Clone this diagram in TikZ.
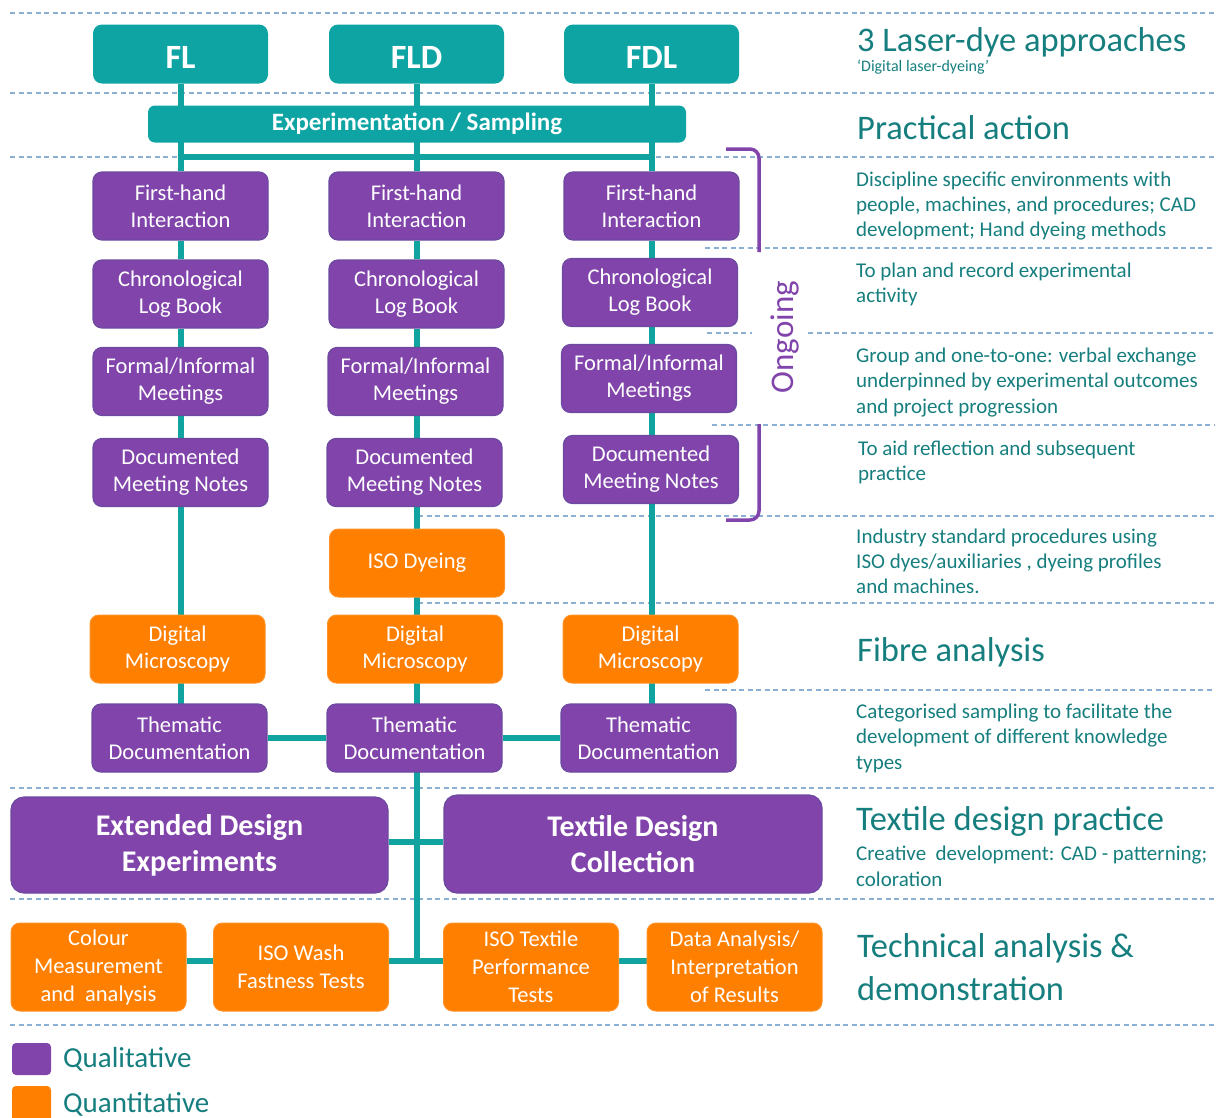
\documentclass[tikz,border=0pt]{standalone}
\usepackage{fontspec}
\setmainfont{Carlito}
\usetikzlibrary{backgrounds}
\definecolor{tealbox}{RGB}{14,164,164}
\definecolor{tealline}{RGB}{16,163,160}
\definecolor{purp}{RGB}{128,68,170}
\definecolor{purpedge}{RGB}{108,74,160}
\definecolor{orng}{RGB}{255,127,0}
\definecolor{dashblue}{RGB}{138,176,214}
\definecolor{txtteal}{RGB}{22,126,126}
\newcommand\myfs[2]{\fontsize{#1}{#2}\selectfont}
\begin{document}
\begin{tikzpicture}[x=1pt,y=-1pt,
 box/.style={rectangle, rounded corners=9pt, align=center, text=white, inner sep=0pt, minimum width=175pt, minimum height=68pt, font=\myfs{22.5}{27}},
 qual/.style={box, fill=purp, draw=purpedge, line width=1.2pt},
 quant/.style={box, fill=orng, draw=orng!85!white, line width=1pt},
 big/.style={qual, minimum height=96pt, rounded corners=13pt, font=\myfs{30}{36}\bfseries},
 head/.style={rectangle, rounded corners=9pt, fill=tealbox, text=white, inner sep=0pt, minimum width=175pt, minimum height=59pt, font=\myfs{34}{40}\bfseries, execute at begin node={\rule{0pt}{28pt}}},
 conn/.style={draw=tealline, line width=6pt},
 sep/.style={draw=dashblue, line width=1.8pt, dash pattern=on 5pt off 3.5pt},
 title/.style={anchor=base west, inner sep=0pt, text=txtteal, font=\myfs{34.5}{43}, align=left},
 desc/.style={anchor=base west, inner sep=0pt, text=txtteal, font=\myfs{21}{25.3}, align=left},
 brack/.style={draw=purp, line width=3.5pt, rounded corners=9pt},
]
\useasboundingbox (0,0) rectangle (1216,1117);

% top heads
\node[head] (FL)  at (180.5,54) {FL};
\node[head] (FLD) at (416.5,54) {FLD};
\node[head] (FDL) at (651.5,54) {FDL};
\node[rectangle, rounded corners=7pt, fill=tealbox, text=white, minimum width=538pt, minimum height=37pt, inner sep=0pt, font=\myfs{25}{30}\bfseries] (exp) at (417,124) {Experimentation / Sampling};

% column 1
\node[qual] (fh1) at (180.5,206) {First-hand\\Interaction};
\node[qual] (lb1) at (180.5,294) {Chronological\\Log Book};
\node[qual] (mt1) at (180.5,381.5) {Formal/Informal\\Meetings};
\node[qual] (dn1) at (180.5,472.5) {Documented\\Meeting Notes};
\node[quant] (dm1) at (177.5,649) {Digital\\Microscopy};
\node[qual] (th1) at (179.5,738) {Thematic\\Documentation};

% column 2
\node[qual] (fh2) at (416.5,206) {First-hand\\Interaction};
\node[qual] (lb2) at (416.5,294) {Chronological\\Log Book};
\node[qual] (mt2) at (415.5,381.5) {Formal/Informal\\Meetings};
\node[qual] (dn2) at (414.5,472.5) {Documented\\Meeting Notes};
\node[quant] (iso) at (417,563) {ISO Dyeing};
\node[quant] (dm2) at (415,649) {Digital\\Microscopy};
\node[qual] (th2) at (414.5,738) {Thematic\\Documentation};

% column 3
\node[qual] (fh3) at (651.5,206) {First-hand\\Interaction};
\node[qual] (lb3) at (650,292.5) {Chronological\\Log Book};
\node[qual] (mt3) at (649,378.5) {Formal/Informal\\Meetings};
\node[qual] (dn3) at (651,469.5) {Documented\\Meeting Notes};
\node[quant] (dm3) at (650.5,649) {Digital\\Microscopy};
\node[qual] (th3) at (648.5,738) {Thematic\\Documentation};

% design practice
\node[big, minimum width=377pt] (ext) at (199.5,845) {Extended Design\\Experiments};
\node[big, minimum width=378pt, minimum height=98pt] (tex) at (633,844) {Textile Design\\Collection};

% technical row
\node[quant, minimum height=88pt, font=\myfs{22.5}{28}] (col) at (98.5,967) {Colour\\Measurement\\and~ analysis};
\node[quant, minimum height=88pt, font=\myfs{22.5}{28}] (wash) at (301,967) {ISO Wash\\Fastness Tests};
\node[quant, minimum height=88pt, font=\myfs{22.5}{28}] (perf) at (531,967) {ISO Textile\\Performance\\Tests};
\node[quant, minimum height=88pt, font=\myfs{22.5}{28}] (data) at (734.5,967) {Data Analysis/\\Interpretation\\of Results};

\coordinate (bar1) at (180.5,157);
\coordinate (bar3) at (651.5,157);
\coordinate (junc) at (416.5,961);

\begin{scope}[on background layer]
% dashed separators
\draw[sep] (10,13) -- (1214,13);
\draw[sep] (10,93) -- (1214,93);
\draw[sep] (10,157) -- (1214,157);
\draw[sep] (705,248) -- (1214,248);
\draw[sep] (707,333) -- (752,333);
\draw[sep] (808,333) -- (1214,333);
\draw[sep] (712,425) -- (1214,425);
\draw[sep] (418,516) -- (1214,516);
\draw[sep] (418,603) -- (1214,603);
\draw[sep] (705,690) -- (1214,690);
\draw[sep] (10,788) -- (1214,788);
\draw[sep] (10,899) -- (1214,899);
\draw[sep] (10,1025) -- (1214,1025);
% connectors
\draw[conn] (FL) -- (fh1.center |- exp) -- (fh1) -- (lb1) -- (mt1.center -| fh1) -- (dn1.center -| fh1) -- (dm1.center -| fh1) -- (th1.center -| fh1);
\draw[conn] (FLD) -- (fh2) -- (lb2) -- (mt2.center -| fh2) -- (dn2.center -| fh2) -- (iso.center -| fh2) -- (dm2.center -| fh2) -- (th2.center -| fh2) -- (junc);
\draw[conn] (FDL) -- (fh3) -- (lb3.center -| fh3) -- (mt3.center -| fh3) -- (dn3.center -| fh3) -- (dm3.center -| fh3) -- (th3.center -| fh3);
\draw[conn] (bar1) -- (bar3);
\draw[conn] (th1) -- (th2) -- (th3);
\draw[conn] (ext.east |- 0,842) -- (tex.west |- 0,842);
\draw[conn] (col.east |- junc) -- (wash.west |- junc);
\draw[conn] (wash.east |- junc) -- (perf.west |- junc);
\draw[conn] (perf.east |- junc) -- (data.west |- junc);
\end{scope}

% ongoing bracket
\draw[brack] (726,149) -- (759,149) -- (759,252);
\draw[brack] (759,424) -- (759,520) -- (726,520);
\node[rotate=90, text=purp, font=\myfs{33}{33}, inner sep=0pt] (ongoing) at (785,337) {Ongoing};

% right column texts (anchor = baseline of the last line)
\node[title] (t1) at (857,51) {3 Laser-dye approaches};
\node[desc, font=\myfs{16}{19}] (t1s) at (857,71) {‘Digital laser-dyeing’};
\node[title] (t2) at (857,139) {Practical action};
\node[desc] (d1) at (856,236.6) {Discipline specific environments with\\people, machines, and procedures; CAD\\development; Hand dyeing methods};
\node[desc] (d2) at (856,302.8) {To plan and record experimental\\activity};
\node[desc] (d3) at (856,413.1) {Group and one-to-one: verbal exchange\\underpinned by experimental outcomes\\and project progression};
\node[desc] (d4) at (858,480.8) {To aid reflection and subsequent\\practice};
\node[desc] (d5) at (856,593.6) {Industry standard procedures using\\ISO dyes/auxiliaries , dyeing profiles\\and machines.};
\node[title] (t3) at (857,661) {Fibre analysis};
\node[desc] (d6) at (856,769) {Categorised sampling to facilitate the\\development of different knowledge\\types};
\node[title] (t4) at (856,830) {Textile design practice};
\node[desc] (d7) at (856,886) {Creative~ development: CAD - patterning;\\coloration};
\node[title] (t5) at (857,1000) {Technical analysis \&\\demonstration};

% legend
\node[rectangle, rounded corners=4pt, fill=purp, minimum width=39pt, minimum height=32pt, inner sep=0pt] (legq) at (31.5,1059) {};
\node[rectangle, rounded corners=4pt, fill=orng, minimum width=39pt, minimum height=40pt, inner sep=0pt] (legn) at (31.5,1106) {};
\node[anchor=base west, inner sep=0pt, text=txtteal, font=\myfs{29}{34}] (legqt) at (63,1067) {Qualitative};
\node[anchor=base west, inner sep=0pt, text=txtteal, font=\myfs{29}{34}] (legnt) at (63,1112) {Quantitative};
\end{tikzpicture}
\end{document}
